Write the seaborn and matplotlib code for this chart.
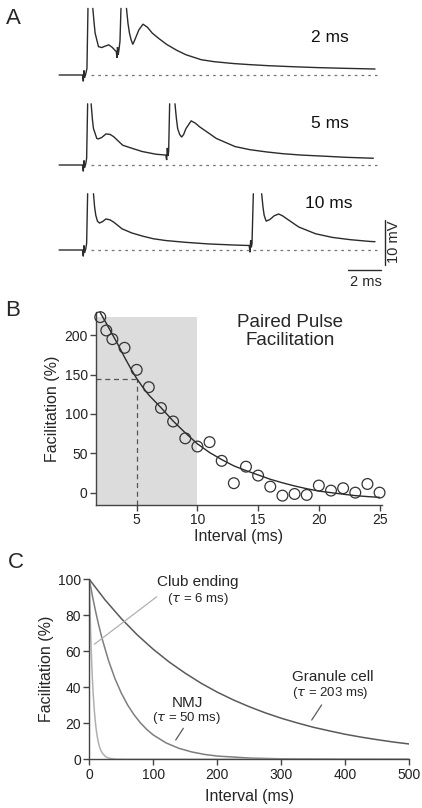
import numpy as np
import pandas as pd
import matplotlib
matplotlib.use('Agg')
import matplotlib.pyplot as plt
import seaborn as sns

nan = np.nan

# ---- Panel A: membrane potential traces (time in ms, voltage in mV above baseline) ----
trace_2ms_t = [-1.45, -0.05, 0.0, 0.04, 0.08, 0.15, 0.22, 0.28, nan,
               0.57, 0.65, 0.71, 0.81, 0.91, 1.11, 1.3, 1.52, 1.72, 1.92, 1.98,
               2.02, 2.05, 2.09, 2.14, 2.2, 2.26, nan,
               2.59, 2.68, 2.77, 2.87, 2.97, 3.1, 3.33, 3.58, 3.85, 4.14, 4.5,
               5.0, 5.6, 6.16, 7.07, 7.85, 9.0, 10.0, 11.1, 12.5, 14.0, 15.5, 17.5]
trace_2ms_v = [0, 0, -1.4, 1.0, -0.6, 0.3, 1.5, 14.8, nan,
               14.8, 11.5, 9.3, 7.8, 6.3, 6.1, 6.4, 6.7, 6.2, 5.4, 5.2,
               3.8, 6.2, 4.5, 5.6, 7.5, 14.8, nan,
               14.8, 11.5, 9.3, 7.8, 6.8, 7.9, 10.0, 11.3, 10.6, 9.3, 8.2,
               6.8, 5.5, 4.5, 3.4, 2.96, 2.55, 2.3, 2.07, 1.85, 1.65, 1.5, 1.33]

trace_5ms_t = [-1.45, -0.05, 0.0, 0.04, 0.08, 0.15, 0.2, 0.26, nan,
               0.47, 0.55, 0.61, 0.81, 0.9, 1.1, 1.36, 1.6, 1.82, 2.36, 2.93,
               3.53, 4.35, 4.95, 5.0, 5.04, 5.08, 5.12, 5.18, nan,
               5.5, 5.58, 5.66, 5.78, 5.9, 6.02, 6.16, 6.47, 6.72, 6.97, 7.4,
               7.98, 9.1, 10.0, 11.0, 12.0, 13.1, 14.5, 15.8, 17.4]
trace_5ms_v = [0, 0, -1.4, 1.0, -0.6, 0.3, 1.5, 13.6, nan,
               13.6, 10.0, 8.1, 5.9, 5.8, 6.1, 6.9, 6.8, 6.3, 4.4, 3.7,
               3.0, 2.4, 2.2, 1.1, 3.8, 2.0, 3.0, 13.6, nan,
               13.6, 10.5, 8.1, 6.8, 6.2, 6.8, 8.1, 9.8, 9.3, 8.5, 7.4,
               5.9, 4.1, 3.4, 2.9, 2.5, 2.2, 1.95, 1.7, 1.5]

trace_10ms_t = [-1.45, -0.05, 0.0, 0.04, 0.08, 0.15, 0.2, 0.26, nan,
                0.61, 0.68, 0.75, 0.85, 0.97, 1.15, 1.36, 1.6, 1.82, 2.33, 2.9,
                3.54, 4.2, 4.95, 6.16, 7.5, 9.07, 9.95, 10.0, 10.04, 10.08, 10.12, 10.2, nan,
                10.7, 10.78, 10.85, 10.97, 11.2, 11.45, 11.72, 11.95, 12.22, 12.93,
                13.94, 14.94, 16.0, 17.2, 17.5]
trace_10ms_v = [0, 0, -1.4, 1.0, -0.6, 0.3, 1.5, 12.5, nan,
                12.5, 9.5, 7.7, 6.4, 6.0, 6.3, 6.9, 6.7, 6.2, 4.7, 3.8,
                3.1, 2.5, 2.1, 1.7, 1.35, 1.1, 1.0, -0.5, 2.2, 0.6, 1.4, 12.5, nan,
                12.5, 9.5, 7.7, 6.4, 6.8, 7.6, 8.0, 7.6, 6.9, 5.1,
                3.6, 2.8, 2.3, 1.9, 1.85]

trace_labels = ['2 ms', '5 ms', '10 ms']

# ---- Panel B: paired pulse facilitation ----
ppf_interval = [2, 2.5, 3, 4, 5, 6, 7, 8, 9, 10, 11, 12, 13, 14, 15,
                16, 17, 18, 19, 20, 21, 22, 23, 24, 25]
ppf_facil = [223, 206, 195, 184, 156, 134, 107.5, 90.4, 69, 58.6, 64.2, 40.4, 12, 33, 21.7,
             7.6, -3.8, -1.7, -2.9, 9, 2.6, 5.6, 0, 11, 0]

fit_interval = [1.95, 2.5, 3, 3.5, 4, 4.5, 5, 5.5, 6, 6.5, 7, 8, 9, 10, 11, 12, 13, 14,
                15, 16, 17, 18, 19, 20, 21, 22, 23, 24, 25]
fit_facil = [230, 215, 201, 187, 172, 158, 145, 134, 124, 116, 108, 91, 76, 62, 51, 42, 34, 28,
             22.5, 17, 12.5, 8.5, 5, 2, 0, -2, -3.8, -5, -6]

# ---- Panel C: fitted decays for three synapses ----
granule_t = [0, 25, 50, 75, 100, 125, 150, 175, 200, 225, 250, 275, 300, 325, 350,
             375, 400, 425, 450, 475, 500]
granule_f = [100, 88.4, 78.2, 69.1, 61.1, 54.0, 47.8, 42.2, 37.3, 33.0, 29.2, 25.8, 22.8,
             20.2, 17.8, 15.8, 13.9, 12.3, 10.9, 9.6, 8.5]

nmj_t = [0, 5, 10, 15, 20, 30, 40, 50, 60, 70, 80, 90, 100, 120, 140, 160, 180, 200,
         250, 300, 400, 500]
nmj_f = [100, 90.5, 81.9, 74.1, 67.0, 54.9, 44.9, 36.8, 30.1, 24.7, 20.2, 16.5, 13.5,
         9.1, 6.1, 4.1, 2.7, 1.8, 0.7, 0.25, 0.03, 0]

club_t = [0, 1, 2, 3, 4, 5, 6, 8, 10, 12, 14, 16, 18, 20, 25, 30, 40, 60, 500]
club_f = [100, 84.6, 71.7, 60.7, 51.3, 43.5, 36.8, 26.4, 18.9, 13.5, 9.7, 6.9, 5.0, 3.6,
          1.6, 0.7, 0.1, 0, 0]

sns.set_style('ticks')
plt.rcParams['font.family'] = ['Liberation Sans', 'DejaVu Sans']
plt.rcParams['mathtext.fontset'] = 'dejavusans'

W, H = 422, 808
fig = plt.figure(figsize=(W / 100, H / 100), dpi=100)


def box(left, top, right, bottom):
    return [left / W, 1 - bottom / H, (right - left) / W, (bottom - top) / H]


ink = '#2b2b2b'
axis_col = '#444444'

# ---------------- Panel A ----------------
axA = fig.add_axes(box(55, 0, 395, 290))
px_ms, px_mv = 16.67, 4.5
axA.set_xlim((55 - 83.3) / px_ms, (395 - 83.3) / px_ms)
top_mv = 75 / px_mv
axA.set_ylim(top_mv - 290 / px_mv, top_mv)
axA.axis('off')

offsets = [0, -(165 - 75) / px_mv, -(250 - 75) / px_mv]
traces = [(trace_2ms_t, trace_2ms_v), (trace_5ms_t, trace_5ms_v), (trace_10ms_t, trace_10ms_v)]
label_pos = [(37, 330), (124, 330), (204, 329)]
for (t, v), off, lab, (ly, lx) in zip(traces, offsets, trace_labels, label_pos):
    axA.plot(t, np.array(v) + off, color=ink, lw=1.0, solid_joinstyle='miter')
    axA.plot([0.45, 17.6], [off, off], color='#777777', lw=0.9, ls=(0, (2.2, 3.2)))
    axA.text((lx - 83.3) / px_ms, top_mv - ly / px_mv, lab, fontsize=12.5,
             ha='center', va='center', color='#111111')

# scale bars
bar_x = (385 - 83.3) / px_ms
axA.plot([bar_x, bar_x], [top_mv - 220 / px_mv, top_mv - 265 / px_mv], color=ink, lw=1.0)
axA.plot([(348 - 83.3) / px_ms, (348 - 83.3) / px_ms + 2], [top_mv - 270 / px_mv] * 2,
         color=ink, lw=1.0)
axA.text((394 - 83.3) / px_ms, top_mv - 242 / px_mv, '10 mV', rotation=90, fontsize=10.5,
         ha='center', va='center')
axA.text((366 - 83.3) / px_ms, top_mv - 282 / px_mv, '2 ms', fontsize=10.5,
         ha='center', va='center')

# ---------------- Panel B ----------------
axB = fig.add_axes(box(96, 312, 382, 505))
axB.set_xlim(1.65, 25.2)
axB.set_ylim(-15.7, 229.5)
axB.axvspan(1.65, 10, ymin=0, ymax=(223 + 15.7) / (229.5 + 15.7), color='#dcdcdc', lw=0, zorder=0)
axB.plot([1.65, 5], [144.5, 144.5], color='#555555', lw=0.9, ls=(0, (4, 3)))
axB.plot([5, 5], [-15.7, 144.5], color='#555555', lw=0.9, ls=(0, (4, 3)))
sns.lineplot(x=fit_interval, y=fit_facil, ax=axB, color=ink, lw=1.0, estimator=None)
sns.scatterplot(x=ppf_interval, y=ppf_facil, ax=axB, marker='o', s=60,
                facecolor='none', edgecolor='#333333', linewidth=0.9, zorder=3,
                clip_on=False)
axB.set_xticks([5, 10, 15, 20, 25])
axB.set_yticks([0, 50, 100, 150, 200])
axB.set_xlabel('Interval (ms)', fontsize=11.5, labelpad=1)
axB.set_ylabel('Facilitation (%)', fontsize=11.5, labelpad=3)
axB.text(17.6, 205, 'Paired Pulse\nFacilitation', fontsize=13.5, ha='center', va='center',
         linespacing=1.05)

# ---------------- Panel C ----------------
axC = fig.add_axes(box(89.3, 579.3, 409.3, 759.3))
axC.set_xlim(0, 500)
axC.set_ylim(0, 100)
sns.lineplot(x=granule_t, y=granule_f, ax=axC, color='#5a5a5a', lw=1.1, estimator=None)
sns.lineplot(x=nmj_t, y=nmj_f, ax=axC, color='#7e7e7e', lw=1.1, estimator=None)
sns.lineplot(x=club_t, y=club_f, ax=axC, color='#b0b0b0', lw=1.1, estimator=None)
axC.set_xticks([0, 100, 200, 300, 400, 500])
axC.set_yticks([0, 20, 40, 60, 80, 100])
axC.set_xlabel('Interval (ms)', fontsize=11.5, labelpad=5)
axC.set_ylabel('Facilitation (%)', fontsize=11.5, labelpad=3)

axC.text(170, 98.7, 'Club ending', fontsize=11, ha='center', va='center')
axC.text(170, 88.9, r'($\tau$ = 6 ms)', fontsize=9.5, ha='center', va='center')
axC.plot([7.8, 105.3], [63.9, 90.3], color='#b0b0b0', lw=0.9)
axC.text(153.7, 31.4, 'NMJ', fontsize=11, ha='center', va='center')
axC.text(152, 22.8, r'($\tau$ = 50 ms)', fontsize=9.5, ha='center', va='center')
axC.plot([135, 146.9], [10.7, 17.2], color='#5a5a5a', lw=0.9)
axC.text(381, 45.9, 'Granule cell', fontsize=11, ha='center', va='center')
axC.text(376, 36.7, r'($\tau$ = 203 ms)', fontsize=9.5, ha='center', va='center')
axC.plot([347.5, 363], [21.8, 30.2], color='#5a5a5a', lw=0.9)

for ax in (axB, axC):
    sns.despine(ax=ax)
    for side in ('left', 'bottom'):
        ax.spines[side].set_color(axis_col)
        ax.spines[side].set_linewidth(1.0)
    ax.tick_params(direction='out', length=4, width=1.0, color=axis_col,
                   labelsize=10, pad=2, labelcolor='#222222')

# panel letters
for letter, (x, y) in zip('ABC', [(13, 18.5), (13, 310), (16, 562)]):
    fig.text(x / W, 1 - y / H, letter, fontsize=16, ha='center', va='center')

fig.savefig('out.png', dpi=100)
